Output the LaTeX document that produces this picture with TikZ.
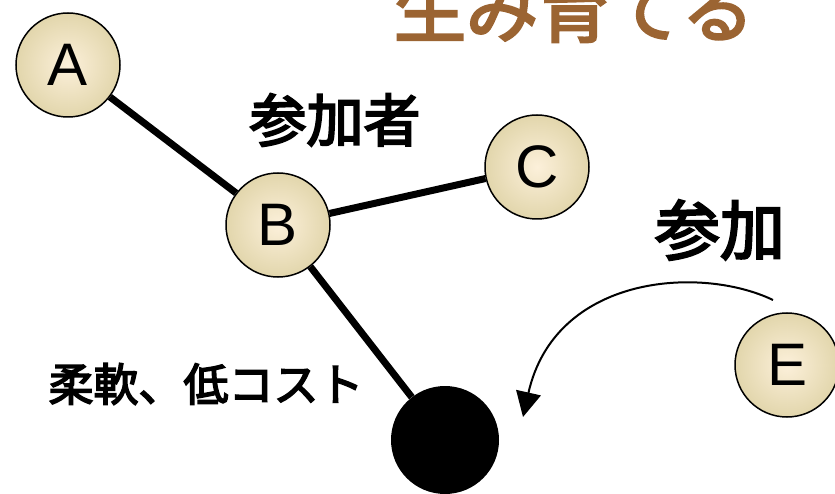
\documentclass[tikz,border=0pt]{standalone}
\usepackage{fontspec}
\setsansfont{Liberation Sans}
\newfontfamily\jp[FakeBold=3.5]{Noto Sans CJK JP}
\usepackage{tikz}
\usetikzlibrary{positioning, shapes, arrows.meta, backgrounds}
\definecolor{cream}{RGB}{252,240,218}
\definecolor{sand}{RGB}{226,214,172}
\definecolor{brownish}{RGB}{155,100,50}
\tikzstyle{pp}=[%
      circle, draw=black, line width=1.5pt, inner color=cream, outer color=sand,
      minimum size=104pt, inner sep=0pt, font=\sffamily\fontsize{60}{60}\selectfont
]
\tikzstyle{hub}=[%
      circle, fill=black, minimum size=108pt, inner sep=0pt
]
\tikzstyle{lb}=[%
      inner sep=0pt, font=\jp
]
\tikzstyle{link}=[%
      line width=7pt, black
]

\begin{document}
\begin{tikzpicture}[x=1pt, y=-1pt]
    \useasboundingbox (0,0) rectangle (835,494);

    \node[pp]  (A)   at (68,65)   {A};
    \node[pp]  (B)   at (278,225) {B};
    \node[pp]  (C)   at (537,167) {C};
    \node[pp]  (E)   at (787,365) {E};
    \node[hub] (hub) at (445,440) {};

    \node[lb, font=\jp\fontsize{72}{72}\selectfont, text=brownish] (title) at (574,9) {生み育てる};
    \node[lb, font=\jp\fontsize{57}{57}\selectfont] (who)  at (335,120) {参加者};
    \node[lb, font=\jp\fontsize{65}{65}\selectfont] (join) at (720,230) {参加};
    \node[lb, font=\jp\fontsize{45}{45}\selectfont] (cost) at (206,384) {柔軟、低コスト};

    \begin{scope}[on background layer]
      \draw[link] (A) -- (B);
      \draw[link] (B) -- (C);
      \draw[link] (B) -- (hub);
    \end{scope}

    \coordinate (from) at (773,300);
    \coordinate (to)   at (523,417);
    \draw[line width=2pt, -{Triangle[length=25pt,width=25pt]}]
      (from) .. controls (700,265) and (555,275) .. (to);
\end{tikzpicture}
\end{document}
